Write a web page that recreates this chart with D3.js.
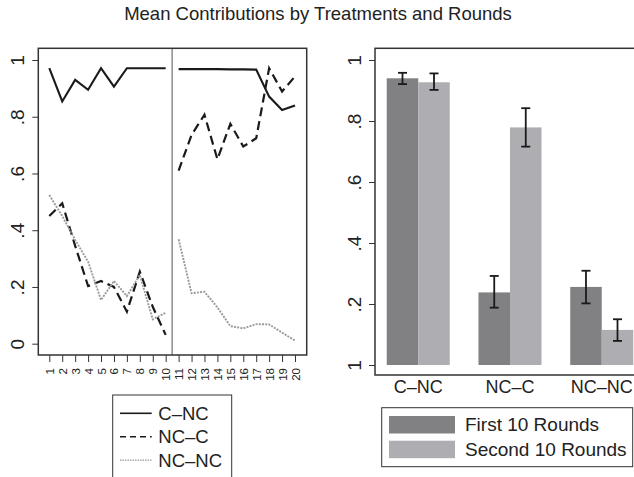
<!DOCTYPE html>
<html>
<head>
<meta charset="utf-8">
<script src="https://cdn.jsdelivr.net/npm/d3@7"></script>
<style>
  body { margin: 0; background: #fff; }
  text { font-family: "Liberation Sans", Arial, sans-serif; fill: #222; }
</style>
</head>
<body>
<div id="chart"></div>
<script>
// Line chart data: mean contribution per round
var rounds = [1, 2, 3, 4, 5, 6, 7, 8, 9, 10, 11, 12, 13, 14, 15, 16, 17, 18, 19, 20];
var cNC  = [0.971, 0.854, 0.930, 0.895, 0.971, 0.906, 0.971, 0.971, 0.971, 0.971,
            0.968, 0.968, 0.968, 0.968, 0.967, 0.967, 0.966, 0.871, 0.824, 0.840];
var ncC  = [0.450, 0.495, 0.345, 0.203, 0.221, 0.200, 0.113, 0.254, 0.130, 0.031,
            0.610, 0.736, 0.807, 0.650, 0.775, 0.695, 0.724, 0.971, 0.889, 0.942];
var ncNC = [0.524, 0.450, 0.366, 0.289, 0.154, 0.221, 0.168, 0.242, 0.086, 0.109,
            0.368, 0.178, 0.183, 0.128, 0.062, 0.054, 0.069, 0.068, 0.039, 0.011];
var lineNames = ["C\u2013NC", "NC\u2013C", "NC\u2013NC"];

// Bar chart data: mean by treatment and half, with error bars
var treatments = ["C\u2013NC", "NC\u2013C", "NC\u2013NC"];
var halves = ["First 10 Rounds", "Second 10 Rounds"];
var firstMean  = [0.940, 0.238, 0.256];
var firstLo    = [0.921, 0.188, 0.202];
var firstHi    = [0.958, 0.292, 0.309];
var secondMean = [0.927, 0.779, 0.115];
var secondLo   = [0.902, 0.716, 0.079];
var secondHi   = [0.956, 0.842, 0.150];

var yTicks = [0, 0.2, 0.4, 0.6, 0.8, 1];
var yTickLabelsLeft = ["0", ".2", ".4", ".6", ".8", "1"];
var yTickLabelsRight = ["1", ".2", ".4", ".6", ".8", "1"];

var width = 634, height = 477;

var svg = d3.select("#chart").append("svg")
    .attr("width", width)
    .attr("height", height);

svg.append("rect").attr("width", width).attr("height", height).attr("fill", "#fff");

svg.append("text")
    .attr("x", 318).attr("y", 20)
    .attr("text-anchor", "middle")
    .style("font-size", "18.5px")
    .text("Mean Contributions by Treatments and Rounds");

// ---------- left panel: lines ----------
var lx = d3.scaleLinear().domain([1, 20]).range([49.3, 295]);
var ly = d3.scaleLinear().domain([0, 1]).range([343.7, 60]);

var left = svg.append("g");

left.append("line")
    .attr("x1", lx(10.5)).attr("x2", lx(10.5))
    .attr("y1", 48.3).attr("y2", 355)
    .attr("stroke", "#8c8c8c").attr("stroke-width", 1.5);

var lineGen = d3.line()
    .x(function (d) { return lx(d[0]); })
    .y(function (d) { return ly(d[1]); });

var lineStyles = [
    { color: "#1a1a1a", dash: null, w: 2.1 },
    { color: "#1a1a1a", dash: "9,5", w: 2.2 },
    { color: "#9a9a9a", dash: "2,1.2", w: 1.9 }
];
var seriesList = [cNC, ncC, ncNC];

// rounds 1-10 and 11-20 are drawn as separate pieces
seriesList.forEach(function (s, i) {
    [[0, 10], [10, 20]].forEach(function (seg) {
        var pts = rounds.slice(seg[0], seg[1]).map(function (r, j) {
            return [r, s[seg[0] + j]];
        });
        left.append("path")
            .attr("d", lineGen(pts))
            .attr("fill", "none")
            .attr("stroke", lineStyles[i].color)
            .attr("stroke-width", lineStyles[i].w)
            .attr("stroke-dasharray", lineStyles[i].dash);
    });
});

left.append("rect")
    .attr("x", 38.3).attr("y", 48.3)
    .attr("width", 306.7 - 38.3).attr("height", 355 - 48.3)
    .attr("fill", "none").attr("stroke", "#333").attr("stroke-width", 1.5);

// y axis left
var lyAxis = left.append("g")
    .attr("transform", "translate(38.3,0)")
    .call(d3.axisLeft(ly).tickValues(yTicks).tickSize(6)
        .tickFormat(function (d, i) { return yTickLabelsLeft[i]; }));
lyAxis.select(".domain").remove();
lyAxis.selectAll("line").attr("stroke", "#333");
lyAxis.selectAll("text")
    .attr("transform", "rotate(-90,-21,0)")
    .attr("x", -21).attr("y", 0)
    .attr("dy", "0.35em")
    .attr("text-anchor", "middle")
    .style("font-size", "19px")
    .style("font-family", "Liberation Sans, Arial, sans-serif")
    .attr("fill", "#222");

// x axis left
var lxAxis = left.append("g")
    .attr("transform", "translate(0,355)")
    .call(d3.axisBottom(lx).tickValues(rounds).tickSize(7).tickFormat(d3.format("d")));
lxAxis.select(".domain").remove();
lxAxis.selectAll("line").attr("stroke", "#333");
lxAxis.selectAll("text")
    .attr("transform", "rotate(-90)")
    .attr("x", -13).attr("y", 0)
    .attr("dy", "0.35em")
    .attr("text-anchor", "end")
    .style("font-size", "11.5px")
    .style("font-family", "Liberation Sans, Arial, sans-serif")
    .attr("fill", "#222");

// left legend
var lleg = svg.append("g");
lleg.append("rect")
    .attr("x", 112.7).attr("y", 395)
    .attr("width", 119).attr("height", 90)
    .attr("fill", "#fff").attr("stroke", "#333").attr("stroke-width", 1);
lineNames.forEach(function (name, i) {
    var yy = 413.3 + i * 23.4;
    lleg.append("line")
        .attr("x1", 120).attr("x2", 151.7)
        .attr("y1", yy).attr("y2", yy)
        .attr("stroke", lineStyles[i].color)
        .attr("stroke-width", i === 2 ? 1.2 : 1.6)
        .attr("stroke-dasharray", i === 1 ? "6,4" : (i === 2 ? "1.5,1" : null));
    lleg.append("text")
        .attr("x", 158.3).attr("y", yy)
        .attr("dy", "0.35em")
        .style("font-size", "18.5px")
        .text(name);
});

// ---------- right panel: bars ----------
var bx = d3.scaleBand().domain(treatments).range([375, 645])
    .paddingInner(0.313).paddingOuter(0.128);
var bsub = d3.scaleBand().domain(halves).range([0, bx.bandwidth()]);
var by = d3.scaleLinear().domain([0, 1]).range([365, 60]);
var barColors = d3.scaleOrdinal().domain(halves).range(["#818183", "#aeaeb2"]);

var barData = [];
treatments.forEach(function (t, i) {
    barData.push({ t: t, h: halves[0], v: firstMean[i], lo: firstLo[i], hi: firstHi[i] });
    barData.push({ t: t, h: halves[1], v: secondMean[i], lo: secondLo[i], hi: secondHi[i] });
});

var right = svg.append("g");

right.selectAll("rect.bar")
    .data(barData).enter()
    .append("rect")
    .attr("class", "bar")
    .attr("x", function (d) { return bx(d.t) + bsub(d.h); })
    .attr("width", bsub.bandwidth())
    .attr("y", function (d) { return by(d.v); })
    .attr("height", function (d) { return by(0) - by(d.v); })
    .attr("fill", function (d) { return barColors(d.h); });

var errs = right.selectAll("g.err")
    .data(barData).enter()
    .append("g").attr("class", "err")
    .attr("transform", function (d) {
        return "translate(" + (bx(d.t) + bsub(d.h) + bsub.bandwidth() / 2) + ",0)";
    });
errs.append("line")
    .attr("y1", function (d) { return by(d.lo); })
    .attr("y2", function (d) { return by(d.hi); })
    .attr("stroke", "#1a1a1a").attr("stroke-width", 1.8);
errs.selectAll("line.cap")
    .data(function (d) { return [d.lo, d.hi]; }).enter()
    .append("line").attr("class", "cap")
    .attr("x1", -4.5).attr("x2", 4.5)
    .attr("y1", function (d) { return by(d); })
    .attr("y2", function (d) { return by(d); })
    .attr("stroke", "#1a1a1a").attr("stroke-width", 1.8);

right.append("rect")
    .attr("x", 375).attr("y", 48.3)
    .attr("width", 270).attr("height", 375 - 48.3)
    .attr("fill", "none").attr("stroke", "#333").attr("stroke-width", 1.5);

var ryAxis = right.append("g")
    .attr("transform", "translate(375,0)")
    .call(d3.axisLeft(by).tickValues(yTicks).tickSize(6)
        .tickFormat(function (d, i) { return yTickLabelsRight[i]; }));
ryAxis.select(".domain").remove();
ryAxis.selectAll("line").attr("stroke", "#333");
ryAxis.selectAll("text")
    .attr("transform", "rotate(-90,-21,0)")
    .attr("x", -21).attr("y", 0)
    .attr("dy", "0.35em")
    .attr("text-anchor", "middle")
    .style("font-size", "19px")
    .style("font-family", "Liberation Sans, Arial, sans-serif")
    .attr("fill", "#222");

right.selectAll("text.cat")
    .data(treatments).enter()
    .append("text").attr("class", "cat")
    .attr("x", function (d) { return bx(d) + bx.bandwidth() / 2; })
    .attr("y", 393)
    .attr("text-anchor", "middle")
    .style("font-size", "18px")
    .text(function (d) { return d; });

// right legend
var rleg = svg.append("g");
rleg.append("rect")
    .attr("x", 381.7).attr("y", 407.7)
    .attr("width", 251).attr("height", 59)
    .attr("fill", "#fff").attr("stroke", "#333").attr("stroke-width", 1);
halves.forEach(function (h, i) {
    var yy = 416 + i * 24.7;
    rleg.append("rect")
        .attr("x", 389).attr("y", yy)
        .attr("width", 66).attr("height", 17.5)
        .attr("fill", barColors(h));
    rleg.append("text")
        .attr("x", 465).attr("y", yy + 8.75)
        .attr("dy", "0.35em")
        .style("font-size", "19px")
        .text(h);
});
</script>
</body>
</html>
